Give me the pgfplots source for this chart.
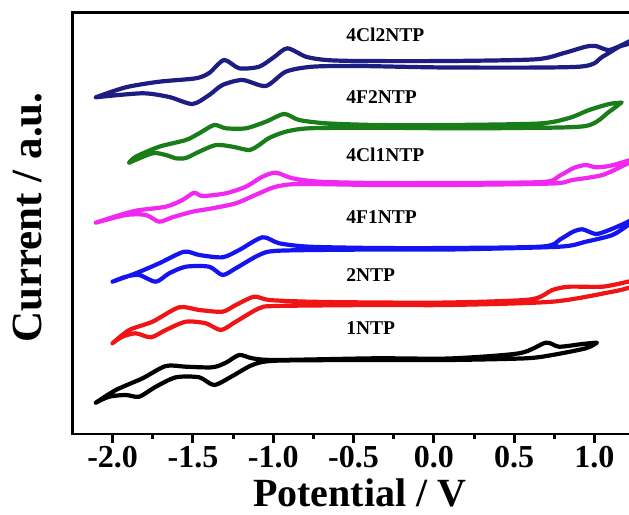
\documentclass[border=0pt]{standalone}
\usepackage{fontspec}
\setmainfont{Liberation Serif}
\usepackage{pgfplots}
\pgfplotsset{compat=1.18}
\usetikzlibrary{calc}

\definecolor{cnavy}{RGB}{30,30,130}
\definecolor{cgreen}{RGB}{25,125,25}
\definecolor{cmag}{RGB}{240,40,240}
\definecolor{cblue}{RGB}{20,20,240}
\definecolor{cred}{RGB}{240,20,20}

\begin{document}
\begin{tikzpicture}
\begin{axis}[
    scale only axis,
    width=562.1pt, height=421.3pt,
    xmin=-2.25, xmax=1.25,
    ymin=-434, ymax=-12.7,
    ytick=\empty,
    xtick={-2,-1.5,...,1},
    minor x tick num=1,
    xtick pos=left,
    tick align=outside,
    major tick length=9pt,
    minor tick length=5pt,
    tick style={line width=3pt, black},
    axis line style={line width=2.6pt},
    /pgf/number format/assume math mode=true,
    /pgf/number format/fixed,
    /pgf/number format/fixed zerofill,
    /pgf/number format/precision=1,
    xticklabel style={font=\fontsize{32}{32}\selectfont\bfseries},
    xlabel={Potential / V},
    xlabel style={font=\fontsize{40}{40}\selectfont\bfseries,
        at={(rel axis cs:0.511,-0.172)}, anchor=base},
    ylabel={Current / a.u.},
    ylabel style={font=\fontsize{43}{43}\selectfont\bfseries,
        at={(rel axis cs:-0.0548,0.514)}, anchor=base},
    every axis plot/.append style={line width=4.2pt, line join=round,
        line cap=round, smooth, tension=0.45},
]
\coordinate (bl) at (rel axis cs:0,0);
\coordinate (tl) at (rel axis cs:0,1);

% 4Cl2NTP
\addplot[cnavy] coordinates {
(-2.105,-97.3) (-1.918,-87.3) (-1.710,-81.7) (-1.482,-78.3) (-1.399,-73)
(-1.306,-60) (-1.212,-68.3) (-1.088,-66.7) (-0.994,-57) (-0.912,-48.3)
(-0.797,-56.7) (-0.672,-60) (-0.465,-61) (0.095,-61) (0.635,-59.3)
(0.811,-53) (0.946,-46.7) (1.009,-46) (1.092,-50) (1.21,-42) (1.27,-37)
(1.27,-39) (1.21,-44) (1.154,-46.7) (1.050,-56.7) (0.905,-66.7)
(0.095,-67.5) (-0.465,-66) (-0.756,-66.7) (-0.922,-71.7) (-1.046,-86)
(-1.191,-80) (-1.316,-85) (-1.399,-95) (-1.503,-104) (-1.648,-97)
(-1.816,-93.3) (-2.105,-97.3)
};
% 4F2NTP
\addplot[cgreen] coordinates {
(-1.897,-162.7) (-1.856,-156.7) (-1.710,-146.7) (-1.544,-140) (-1.461,-133.3)
(-1.368,-125) (-1.295,-128.3) (-1.171,-128.3) (-1.046,-121.7) (-0.932,-114)
(-0.839,-120) (-0.672,-123.3) (-0.361,-125) (0.095,-125) (0.656,-123.5)
(0.842,-118) (0.967,-110) (1.092,-104) (1.164,-102.7)
(1.164,-103) (1.092,-111.7) (0.946,-126) (0.5,-128) (0.095,-128.3)
(-0.361,-127.7) (-0.776,-128.3) (-0.922,-131.7) (-1.026,-138) (-1.088,-145)
(-1.150,-150) (-1.254,-146.7) (-1.357,-145) (-1.461,-151.7) (-1.544,-158)
(-1.606,-158.3) (-1.669,-155) (-1.752,-153.3) (-1.897,-162.7)
};
% 4Cl1NTP
\addplot[cmag] coordinates {
(-2.105,-222.7) (-2.001,-217.3) (-1.856,-210.7) (-1.669,-206.7) (-1.565,-200)
(-1.493,-192.7) (-1.441,-196) (-1.295,-193.3) (-1.171,-186.7) (-1.067,-176.7)
(-0.984,-172.7) (-0.880,-178.3) (-0.714,-181.7) (-0.361,-183) (0.095,-183)
(0.680,-182) (0.780,-176) (0.870,-168) (0.946,-165) (1.009,-167.3) (1.092,-166)
(1.21,-160.7) (1.27,-157)
(1.27,-160) (1.21,-163.3) (1.050,-175) (0.863,-180) (0.738,-183.5)
(0.095,-185) (-0.361,-185) (-0.839,-184) (-0.984,-186.7) (-1.088,-193.3)
(-1.233,-203.3) (-1.379,-208.3) (-1.503,-211.7) (-1.628,-217.3) (-1.710,-221.7)
(-1.793,-215) (-1.918,-215) (-2.105,-222.7)
};
% 4F1NTP
\addplot[cblue] coordinates {
(-2.001,-281.7) (-1.856,-273.3) (-1.710,-263.3) (-1.555,-251.7) (-1.461,-255)
(-1.316,-257.3) (-1.212,-250) (-1.067,-237.3) (-0.963,-243.3) (-0.776,-246.7)
(-0.361,-248) (0.095,-248) (0.680,-246.5) (0.790,-239) (0.863,-232) (0.925,-229.3)
(1.009,-234) (1.092,-230) (1.21,-221.7) (1.27,-215)
(1.27,-218) (1.21,-225) (1.112,-235) (0.946,-241.7) (0.780,-246.7)
(0.095,-249.5) (-0.361,-249.5) (-0.963,-250.7) (-1.088,-255) (-1.233,-268.3)
(-1.316,-275) (-1.399,-266.7) (-1.544,-266.7) (-1.648,-273.3) (-1.731,-281.7)
(-1.835,-275) (-1.918,-276.7) (-2.001,-281.7)
};
% 2NTP
\addplot[cred] coordinates {
(-2.001,-343.3) (-1.897,-330) (-1.752,-321.7) (-1.586,-307.3) (-1.461,-310)
(-1.316,-311.7) (-1.233,-305) (-1.119,-296.7) (-1.026,-300) (-0.776,-301.7)
(-0.361,-302.5) (0.095,-302.5) (0.600,-299.5) (0.738,-290) (0.842,-286.7)
(1.050,-286.7) (1.21,-281.7) (1.27,-280)
(1.27,-285) (1.21,-288) (1.112,-291.7) (0.738,-301.7) (0.095,-305)
(-0.361,-305) (-0.984,-306) (-1.088,-308.3) (-1.233,-321.7) (-1.326,-330)
(-1.420,-323.3) (-1.544,-321.7) (-1.669,-330) (-1.762,-337.3) (-1.856,-333.3)
(-1.939,-336.7) (-2.001,-343.3)
};
% 1NTP
\addplot[black] coordinates {
(-2.105,-402.7) (-1.980,-390) (-1.814,-378.3) (-1.669,-366) (-1.544,-366.7)
(-1.379,-367.3) (-1.295,-362.7) (-1.212,-355) (-1.130,-358.3) (-0.984,-360)
(-0.361,-358.3) (0.095,-358.5) (0.531,-353.3) (0.697,-342.7) (0.780,-346.7)
(0.925,-344) (1.009,-342.7)
(1.009,-343.3) (0.946,-348.3) (0.738,-355) (0.573,-358.3) (0.095,-360)
(-0.361,-360) (-0.984,-360.7) (-1.130,-365) (-1.254,-376) (-1.368,-385)
(-1.461,-377.3) (-1.606,-377.3) (-1.731,-386.7) (-1.835,-396.7) (-1.918,-395)
(-2.022,-396.7) (-2.105,-402.7)
};

\begin{scope}[every node/.style={anchor=base west, inner sep=0pt,
    font=\fontsize{19.5}{19.5}\selectfont\bfseries}]
\node at (axis cs:-0.546,-41.7) {4Cl2NTP};
\node at (axis cs:-0.546,-103.3) {4F2NTP};
\node at (axis cs:-0.546,-161.7) {4Cl1NTP};
\node at (axis cs:-0.546,-223.3) {4F1NTP};
\node at (axis cs:-0.546,-281.7) {2NTP};
\node at (axis cs:-0.546,-335) {1NTP};
\end{scope}
\end{axis}
\pgfresetboundingbox
\path[use as bounding box] ($(bl)+(-72.5pt,-80pt)$) rectangle ($(tl)+(556.5pt,12.7pt)$);
\end{tikzpicture}
\end{document}
